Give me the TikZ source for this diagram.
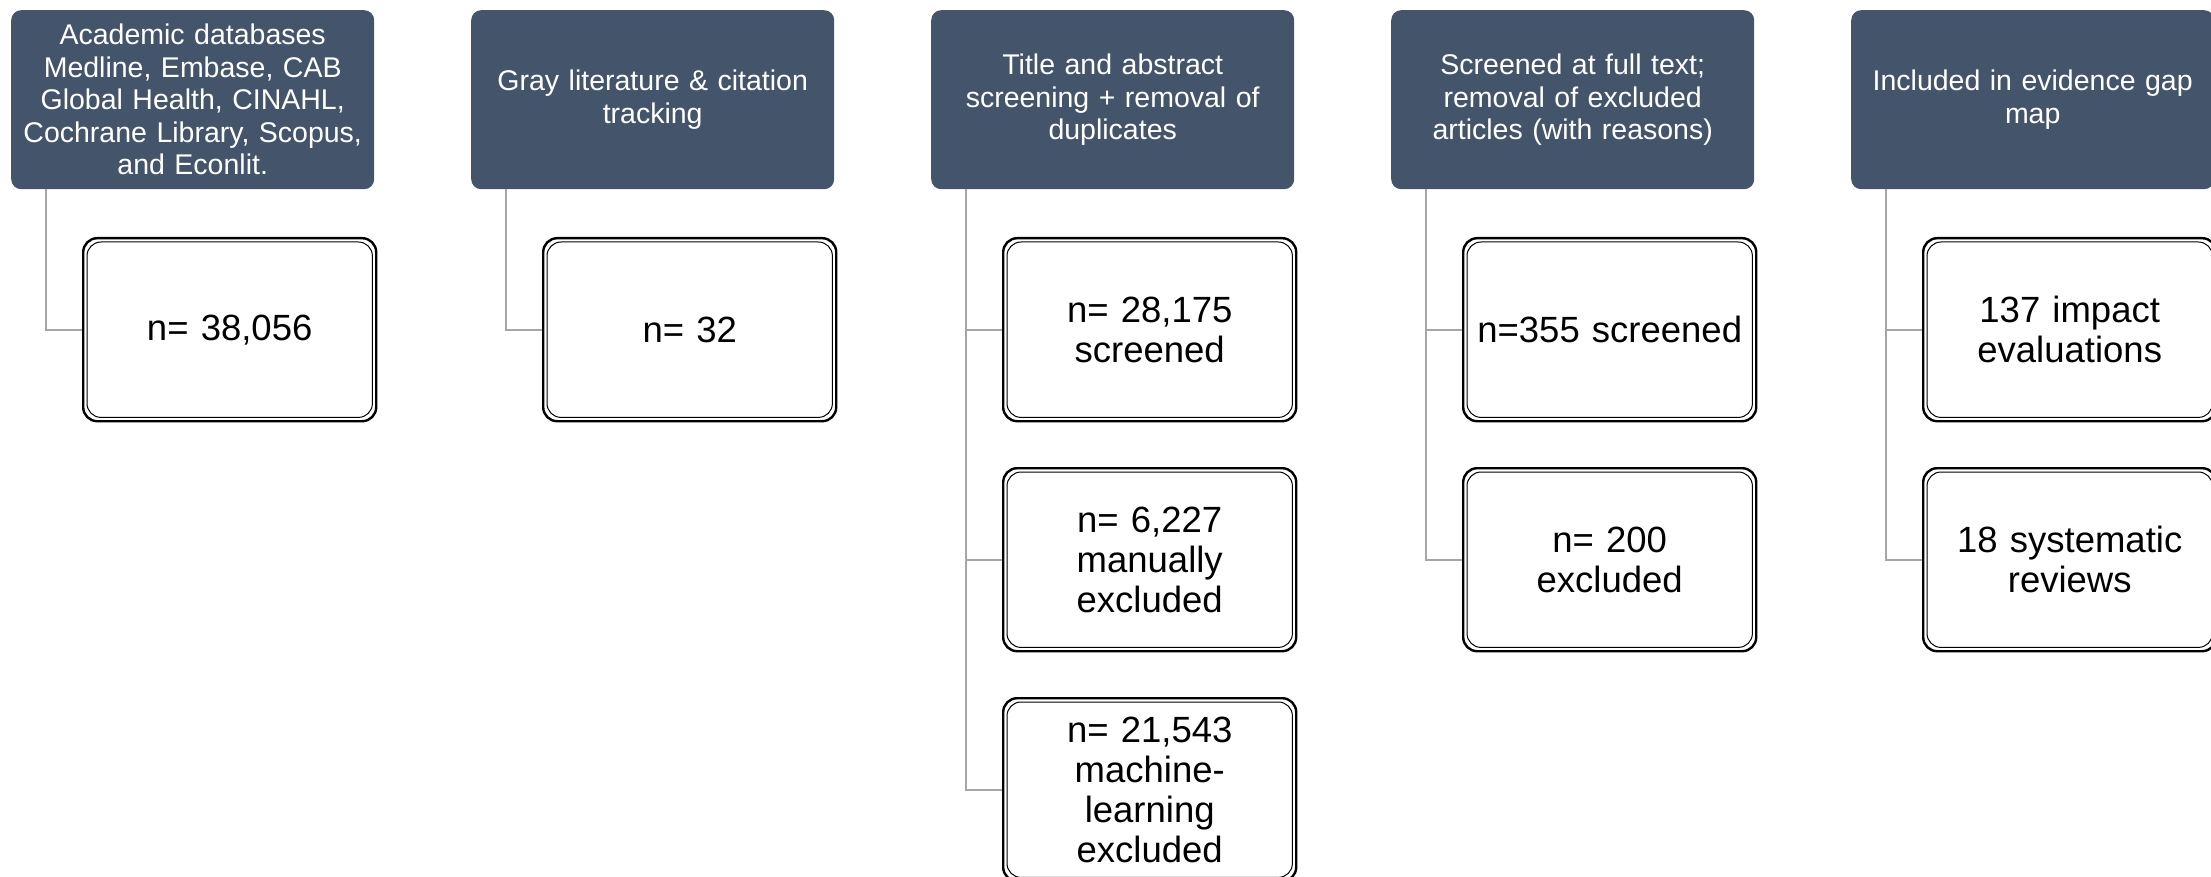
\documentclass[tikz,border=0pt]{standalone}
\usepackage{fontspec}
\setmainfont{Liberation Sans}
\definecolor{hdr}{HTML}{44546A}
\definecolor{connc}{HTML}{A6A6A6}
\begin{document}
\begin{tikzpicture}[x=1pt,y=-1pt,
  hdrbox/.style={fill=hdr, draw=none, rounded corners=10pt, minimum width=363pt, minimum height=179pt,
    text width=352pt, align=center, text=white, font=\fontsize{28.5}{32.5}\selectfont, inner sep=0pt, anchor=north west},
  valbox/.style={draw=black, line width=2.4pt, rounded corners=14pt, fill=white, minimum width=293pt, minimum height=183pt,
    text width=285pt, align=center, inner sep=0pt, anchor=north west, font=\fontsize{36.5}{40}\selectfont,
    path picture={\draw[line width=1pt] ([shift={(3.8pt,3.8pt)}]path picture bounding box.south west) rectangle ([shift={(-3.8pt,-3.8pt)}]path picture bounding box.north east);}},
  conn/.style={draw=connc, line width=2pt}]
\useasboundingbox (0,0) rectangle (2211,877);
% headers
\node[hdrbox] (h1) at (11,10) {Academic databases\\Medline, Embase, CAB\\Global Health, CINAHL,\\Cochrane Library, Scopus,\\and Econlit.};
\node[hdrbox] (h2) at (471,10) {Gray literature \& citation\\tracking};
\node[hdrbox] (h3) at (931,10) {Title and abstract\\screening + removal of\\duplicates};
\node[hdrbox] (h4) at (1391,10) {Screened at full text;\\removal of excluded\\articles (with reasons)};
\node[hdrbox] (h5) at (1851,10) {Included in evidence gap\\map};
% connector start points
\coordinate (c1) at ([xshift=35pt]h1.south west);
\coordinate (c2) at ([xshift=35pt]h2.south west);
\coordinate (c3) at ([xshift=35pt]h3.south west);
\coordinate (c4) at ([xshift=35pt]h4.south west);
\coordinate (c5) at ([xshift=35pt]h5.south west);
% value boxes
\node[valbox] (b11) at (82,237) {n= 38,056};
\node[valbox] (b21) at (542,237) {n= 32};
\node[valbox] (b31) at (1002,237) {n= 28,175\\screened};
\node[valbox] (b32) at (1002,467) {n= 6,227\\manually\\excluded};
\node[valbox] (b33) at (1002,697) {n= 21,543\\machine-\\learning\\excluded};
\node[valbox] (b41) at (1462,237) {n=355 screened};
\node[valbox] (b42) at (1462,467) {n= 200\\excluded};
\node[valbox] (b51) at (1922,237) {137 impact\\evaluations};
\node[valbox] (b52) at (1922,467) {18 systematic\\reviews};
% connectors
\draw[conn] (c1) |- (b11.west);
\draw[conn] (c2) |- (b21.west);
\draw[conn] (c3) |- (b31.west);
\draw[conn] (c3) |- (b32.west);
\draw[conn] (c3) |- (b33.west);
\draw[conn] (c4) |- (b41.west);
\draw[conn] (c4) |- (b42.west);
\draw[conn] (c5) |- (b51.west);
\draw[conn] (c5) |- (b52.west);
\end{tikzpicture}
\end{document}
